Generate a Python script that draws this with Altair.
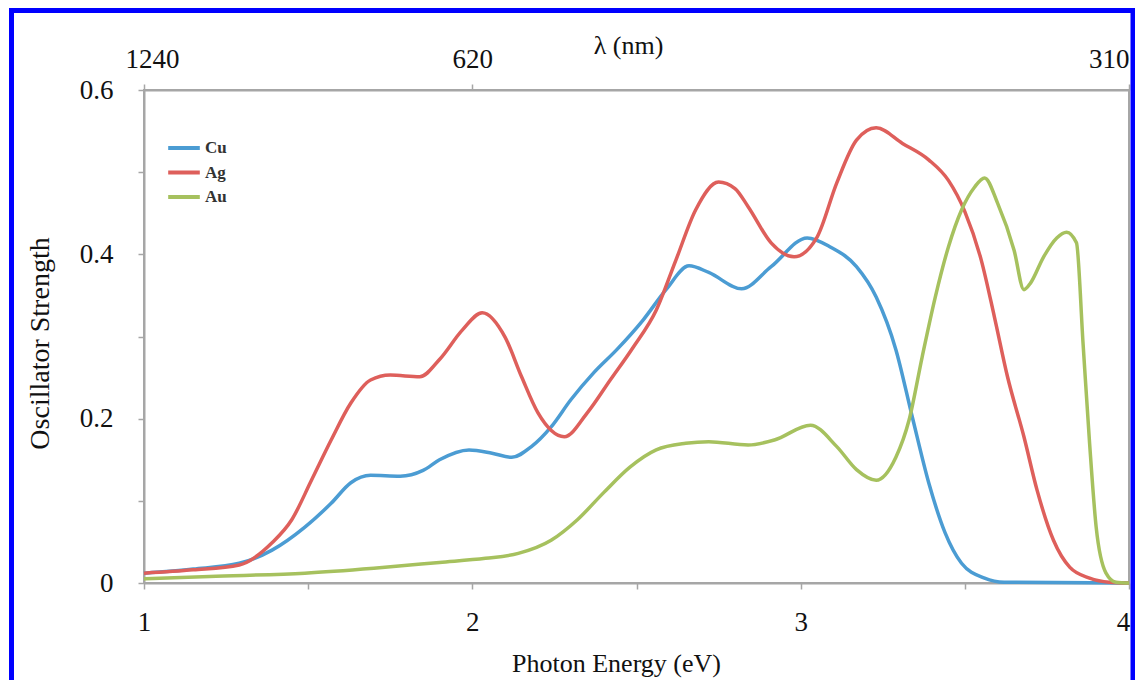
import altair as alt
import pandas as pd

# ---- data (photon energy in eV, oscillator strength) ----
cu_e = [1.00, 1.15, 1.29, 1.39, 1.49, 1.57, 1.63, 1.69, 1.78, 1.85, 1.90, 1.99, 2.06, 2.12,
        2.18, 2.24, 2.30, 2.37, 2.44, 2.52, 2.59, 2.66, 2.72, 2.82, 2.91, 3.02, 3.09, 3.17,
        3.23, 3.29, 3.34, 3.39, 3.44, 3.49, 3.56, 3.62, 4.00]
cu_v = [0.012, 0.017, 0.024, 0.040, 0.068, 0.097, 0.122, 0.131, 0.130, 0.137, 0.150, 0.162,
        0.158, 0.153, 0.166, 0.190, 0.223, 0.256, 0.284, 0.320, 0.357, 0.386, 0.378, 0.358,
        0.385, 0.420, 0.409, 0.385, 0.348, 0.284, 0.202, 0.122, 0.061, 0.024, 0.006, 0.001,
        0.000]

ag_e = [1.00, 1.15, 1.29, 1.39, 1.45, 1.51, 1.57, 1.63, 1.69, 1.75, 1.84, 1.90, 1.97, 2.03,
        2.10, 2.15, 2.20, 2.28, 2.35, 2.42, 2.49, 2.56, 2.62, 2.68, 2.75, 2.80, 2.84, 2.91,
        2.98, 3.05, 3.11, 3.17, 3.23, 3.31, 3.39, 3.45, 3.50, 3.55, 3.59, 3.63, 3.68, 3.72,
        3.77, 3.82, 3.88, 3.94, 4.00]
ag_v = [0.012, 0.016, 0.022, 0.049, 0.077, 0.125, 0.174, 0.219, 0.247, 0.253, 0.251, 0.272,
        0.308, 0.329, 0.299, 0.251, 0.207, 0.178, 0.207, 0.247, 0.287, 0.332, 0.393, 0.454,
        0.488, 0.480, 0.458, 0.414, 0.397, 0.421, 0.487, 0.539, 0.554, 0.535, 0.515, 0.490,
        0.452, 0.393, 0.324, 0.251, 0.178, 0.113, 0.052, 0.019, 0.006, 0.001, 0.000]

au_e = [1.00, 1.20, 1.49, 1.70, 1.90, 2.04, 2.14, 2.24, 2.32, 2.40, 2.48, 2.56, 2.65, 2.72,
        2.84, 2.92, 3.03, 3.11, 3.17, 3.23, 3.29, 3.33, 3.37, 3.41, 3.45, 3.49, 3.53, 3.56,
        3.60, 3.65, 3.68, 3.70, 3.74, 3.78, 3.81, 3.84, 3.86, 3.88, 3.90, 3.93, 3.96, 4.00]
au_v = [0.005, 0.008, 0.012, 0.018, 0.025, 0.030, 0.036, 0.052, 0.077, 0.110, 0.141, 0.162,
        0.170, 0.172, 0.168, 0.174, 0.192, 0.166, 0.138, 0.125, 0.153, 0.198, 0.275, 0.348,
        0.409, 0.454, 0.482, 0.493, 0.462, 0.405, 0.357, 0.365, 0.397, 0.420, 0.427, 0.414,
        0.292, 0.170, 0.068, 0.012, 0.001, 0.000]

metals = ["Cu", "Ag", "Au"]
metal_colors = ["#4B9CD3", "#DE5F5B", "#A6C15E"]

x_ticks = [1, 1.5, 2, 2.5, 3, 3.5, 4]
y_ticks = [0, 0.1, 0.2, 0.3, 0.4, 0.5, 0.6]
top_ticks = [1, 2, 4]  # energies of 1240, 620, 310 nm

rows = []
for name, es, vs in [("Cu", cu_e, cu_v), ("Ag", ag_e, ag_v), ("Au", au_e, au_v)]:
    for e, v in zip(es, vs):
        rows.append({"metal": name, "E": e, "v": v})
df = pd.DataFrame(rows)

FONT = "Liberation Serif"
x_scale = alt.Scale(domain=[1, 4], nice=False, zero=False)
y_scale = alt.Scale(domain=[0, 0.6], nice=False)

lines = alt.Chart(df).mark_line(strokeWidth=3.5, interpolate="monotone").encode(
    x=alt.X("E:Q", scale=x_scale,
            axis=alt.Axis(orient="bottom", values=x_ticks, labelFlush=False,
                          labelExpr="datum.value % 1 == 0 ? format(datum.value, 'd') : ''",
                          labelOffset={"condition": {"test": "datum.value == 4", "value": -6},
                                       "value": 0},
                          title="Photon Energy (eV)", titleX=472, titleY=80,
                          titleBaseline="middle", titleAlign="center",
                          labelPadding=20, tickSize=6)),
    y=alt.Y("v:Q", scale=y_scale,
            axis=alt.Axis(values=y_ticks,
                          labelExpr="round(datum.value*10) % 2 == 0 ? (datum.value == 0 ? '0' : format(datum.value, '.1f')) : ''",
                          title="Oscillator Strength", titleX=-104, titleY=253,
                          titleAngle=270, titleBaseline="middle", titleAlign="center",
                          titleFontSize=28, labelPadding=25, tickSize=6)),
    color=alt.Color("metal:N",
                    scale=alt.Scale(domain=metals, range=metal_colors),
                    legend=alt.Legend(title=None, orient="none", legendX=22, legendY=48,
                                      symbolType="stroke", symbolSize=1000,
                                      symbolStrokeWidth=4, clipHeight=20, rowPadding=4.5,
                                      labelFont=FONT, labelFontWeight="bold",
                                      labelFontSize=17, labelColor="#333333",
                                      labelOffset=3, padding=0)),
)

top = alt.Chart(df).mark_point(opacity=0).encode(
    x=alt.X("E:Q", scale=x_scale,
            axis=alt.Axis(orient="top", values=top_ticks, labelFlush=False,
                          labelExpr="format(1240 / datum.value, 'd')",
                          labelAlign={"condition": {"test": "datum.value == 4", "value": "right"},
                                      "value": "center"},
                          labelOffset={"condition": [{"test": "datum.value == 1", "value": 8},
                                                     {"test": "datum.value == 4", "value": 0}],
                                       "value": 0},
                          title="λ (nm)", titleX=484, titleY=-45,
                          titleBaseline="middle", titleAlign="center",
                          labelPadding=11, tickSize=6)),
)

frame = alt.Chart(pd.DataFrame({"k": [0]})).mark_rect(
    fillOpacity=0, stroke="#0000FF", strokeWidth=5
).encode(
    x=alt.value(-132.5), x2=alt.value(989), y=alt.value(-79.5), y2=alt.value(640)
)

chart = alt.layer(lines, top, frame).resolve_axis(x="independent").properties(
    width=985, height=493,
    autosize=alt.AutoSizeParams(type="none"),
    padding={"left": 136, "top": 82, "right": 6, "bottom": 97},
    background="white",
).configure_axis(
    grid=False,
    domainColor="#A6A6A6", domainWidth=2,
    tickColor="#A6A6A6", tickWidth=1.5,
    labelFont=FONT, labelFontSize=27, labelColor="#111111",
    titleFont=FONT, titleFontSize=26, titleFontWeight="normal", titleColor="#111111",
).configure_view(stroke="#A6A6A6", strokeWidth=2)

chart.save("out.html", embed_options={"renderer": "svg", "actions": False})
